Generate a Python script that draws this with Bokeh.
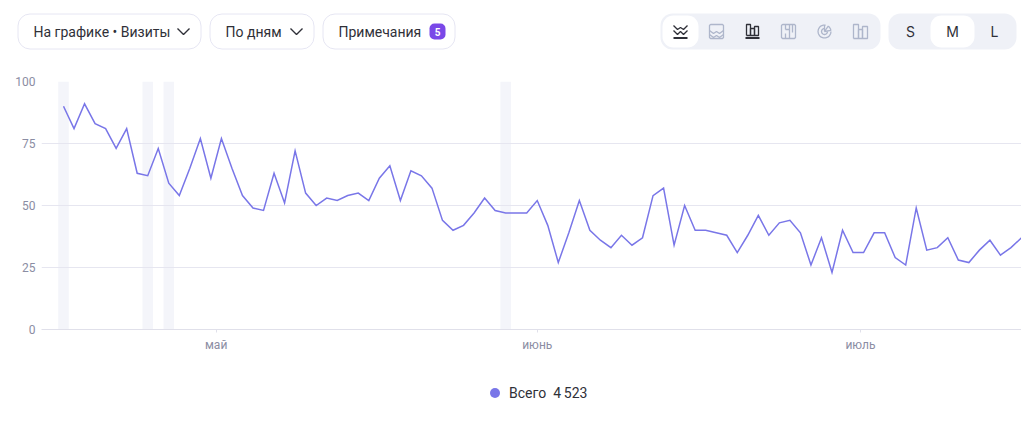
import math
from bokeh.plotting import figure
from bokeh.layouts import column
from bokeh.models import (BoxAnnotation, FixedTicker, Legend, LegendItem, Range1d)
from bokeh.core.properties import value
from bokeh.embed import file_html
from bokeh.resources import INLINE

visits = [90, 81, 91, 83, 81, 73, 81, 63, 62, 73, 59, 54, 65, 77, 61, 77, 65, 54, 49, 48,
          63, 51, 72, 55, 50, 53, 52, 54, 55, 52, 61, 66, 52, 64, 62, 57, 44, 40, 42, 47,
          53, 48, 47, 47, 47, 52, 42, 27, 39, 52, 40, 36, 33, 38, 34, 37, 54, 57, 34, 50,
          40, 40, 39, 38, 31, 38, 46, 38, 43, 44, 39, 26, 37, 23, 40, 31, 31, 39, 39, 29,
          26, 49, 32, 33, 37, 28, 27, 32, 36, 30, 33, 37]
days = list(range(len(visits)))
note_days = [0, 8, 10, 42]
y_ticks = [0, 25, 50, 75, 100]
month_ticks = [14.5, 45.0, 75.7]
month_labels = ["май", "июнь", "июль"]
legend_text = "Всего  4\u2009523"
FONT = "Roboto"

DARK = "#2f3038"
ICON = "#aeb6cb"
SEG = "#eff1f7"
BORDER = "#e6e6f3"
LINE = "#7976e8"
TICK = "#8b8da3"

# ---------- control bar ----------
bar = figure(width=1021, height=60, x_range=Range1d(0, 1021), y_range=Range1d(60, 0),
             x_axis_location=None, y_axis_location=None, toolbar_location=None,
             output_backend="svg", min_border=0, outline_line_color=None)
bar.grid.visible = False
bar.frame_align = False


def box(l, r, t, b, fill, line=None, radius=12):
    bar.add_layout(BoxAnnotation(left=l, right=r, top=t, bottom=b, fill_color=fill, fill_alpha=1,
                                 line_color=line, line_alpha=1 if line else 0, line_width=1,
                                 border_radius=radius, level="underlay"))


def txt(x, y, s, color=DARK, size="14px", align="left", style="normal", font=FONT):
    bar.text([x], [y], text=[s], text_color=color, text_font=value(font), text_font_size=size,
             text_align=align, text_baseline="middle", text_font_style=style)


def lines(cx, cy, segs, color, width=1.3):
    bar.multi_line([[cx + px for px, _ in s] for s in segs], [[cy + py for _, py in s] for s in segs],
                   line_color=color, line_width=width)


box(17.5, 200.5, 13.5, 48.5, "white", BORDER)
box(209.5, 313.5, 13.5, 48.5, "white", BORDER)
box(322.5, 454.5, 13.5, 48.5, "white", BORDER)
txt(33, 31, "На графике • Визиты")
txt(225, 31, "По дням")
txt(338, 31, "Примечания")
chev = [[(-6, -3), (0, 3), (6, -3)]]
lines(183, 31, chev, DARK, 1.4)
lines(296, 31, chev, DARK, 1.4)
box(429, 445, 23, 39, "#7a48e8", None, 5)
txt(437, 31, "5", "white", "10px", "center", "bold")

box(660, 880, 13, 49, SEG, None, 12)
box(888, 1016, 13, 49, SEG, None, 12)
box(662, 698, 15, 47, "white", None, 11)
box(930, 974, 15, 47, "white", None, 11)
txt(910, 31, "S", DARK, "14px", "center", font="Inter")
txt(952, 31, "M", DARK, "14px", "center", font="Inter")
txt(994, 31, "L", DARK, "14px", "center", font="Inter")

lines(680, 31, [[(-7, -6), (-3, -2), (0, -4), (3, -2), (7, -6)],
                [(-7, -1), (-3, 3), (0, 0), (3, 3), (7, -1)]], DARK)
lines(680, 31, [[(-7, 6.5), (7, 6.5)]], DARK, 1.8)
rrect = [(-6, -7), (6, -7), (7, -6), (7, 6), (6, 7), (-6, 7), (-7, 6), (-7, -6), (-6, -7)]
lines(716, 31, [rrect, [(-7, -1), (-3, 2), (0, 0), (3, 2), (7, -1)],
                [(-7, 3), (-3, 6), (0, 4), (3, 6), (7, 3)]], ICON)
lines(752, 31, [[(-6, 4), (-6, -7), (-2, -7), (-2, 4)], [(-2, 4), (-2, -3), (2, -3), (2, 4)],
                [(2, 4), (2, -5), (6, -5), (6, 4), (-6, 4)]], DARK)
lines(752, 31, [[(-7, 6.5), (7, 6.5)]], DARK, 1.8)
lines(788, 31, [rrect, [(-3, -7), (-3, -2)], [(-3, 2), (-3, 7)], [(1, -7), (1, 7)],
                [(-3, -2), (1, -2)], [(4, -7), (4, 1)]], ICON)
ring = [(6.5 * math.cos(math.radians(a)), 6.5 * math.sin(math.radians(a))) for a in range(0, 300, 20)]
wedge = [(0, 0)] + [(6.5 * math.cos(math.radians(a)), 6.5 * math.sin(math.radians(a))) for a in range(-55, 5, 15)] + [(0, 0)]
inner = [(3 * math.cos(math.radians(a)), 3 * math.sin(math.radians(a))) for a in range(0, 300, 30)]
lines(824, 31, [ring, inner, wedge, [(0, 0), (0, -6.5)]], ICON)
lines(860, 31, [[(-7, 7), (-7, -7), (-2, -7), (-2, 7)], [(-2, 7), (-2, -2), (2, -2), (2, 7)],
                [(2, 7), (2, -5), (7, -5), (7, 7), (-7, 7)]], ICON)

# ---------- chart ----------
p = figure(width=1021, height=300, x_range=Range1d(-2.09, 91), y_range=Range1d(0, 100),
           toolbar_location=None, output_backend="svg", outline_line_color=None,
           min_border_left=41, min_border_right=0, min_border_top=21, min_border_bottom=31)
p.frame_align = False
p.vbar(x=note_days, width=1.0, bottom=0, top=100, fill_color="#f4f5fa", line_color=None, level="underlay")
p.line(days, visits, line_color=LINE, line_width=1.5, line_join="miter")

p.xgrid.visible = False
p.ygrid.ticker = FixedTicker(ticks=y_ticks)
p.ygrid.grid_line_color = "#e6e6f0"
p.ygrid.grid_line_width = 1

p.yaxis.ticker = FixedTicker(ticks=y_ticks)
p.yaxis.axis_line_color = None
p.yaxis.major_tick_line_color = None
p.yaxis.minor_tick_line_color = None
p.yaxis.major_label_standoff = 0
p.yaxis.major_label_text_color = TICK
p.yaxis.major_label_text_font = FONT
p.yaxis.major_label_text_font_size = "12px"

p.xaxis.ticker = FixedTicker(ticks=month_ticks)
p.xaxis.major_label_overrides = dict(zip(month_ticks, month_labels))
p.xaxis.axis_line_color = "#e0e0ea"
p.xaxis.major_tick_line_color = "#e0e0ea"
p.xaxis.major_tick_in = 0
p.xaxis.major_tick_out = 3
p.xaxis.minor_tick_line_color = None
p.xaxis.major_label_standoff = 5
p.xaxis.major_label_text_color = TICK
p.xaxis.major_label_text_font = FONT
p.xaxis.major_label_text_font_size = "12px"

# ---------- legend strip ----------
foot = figure(width=1021, height=62, x_range=Range1d(0, 1021), y_range=Range1d(0, 62),
              x_axis_location=None, y_axis_location=None, toolbar_location=None,
              output_backend="svg", min_border=0, outline_line_color=None)
foot.grid.visible = False
foot.frame_align = False
dot = foot.scatter([-50], [-50], size=10, fill_color=LINE, line_color=None)
legend = Legend(items=[LegendItem(label=legend_text, renderers=[dot])], location=(482, 17),
                border_line_color=None, background_fill_alpha=0, padding=0, margin=0, spacing=0,
                glyph_width=25, glyph_height=25, label_standoff=2, label_height=25,
                label_text_font=FONT, label_text_font_size="14px", label_text_color=DARK)
foot.add_layout(legend, "center")

page = column(bar, p, foot, spacing=0)
open("out.html", "w").write(file_html(page, INLINE))
